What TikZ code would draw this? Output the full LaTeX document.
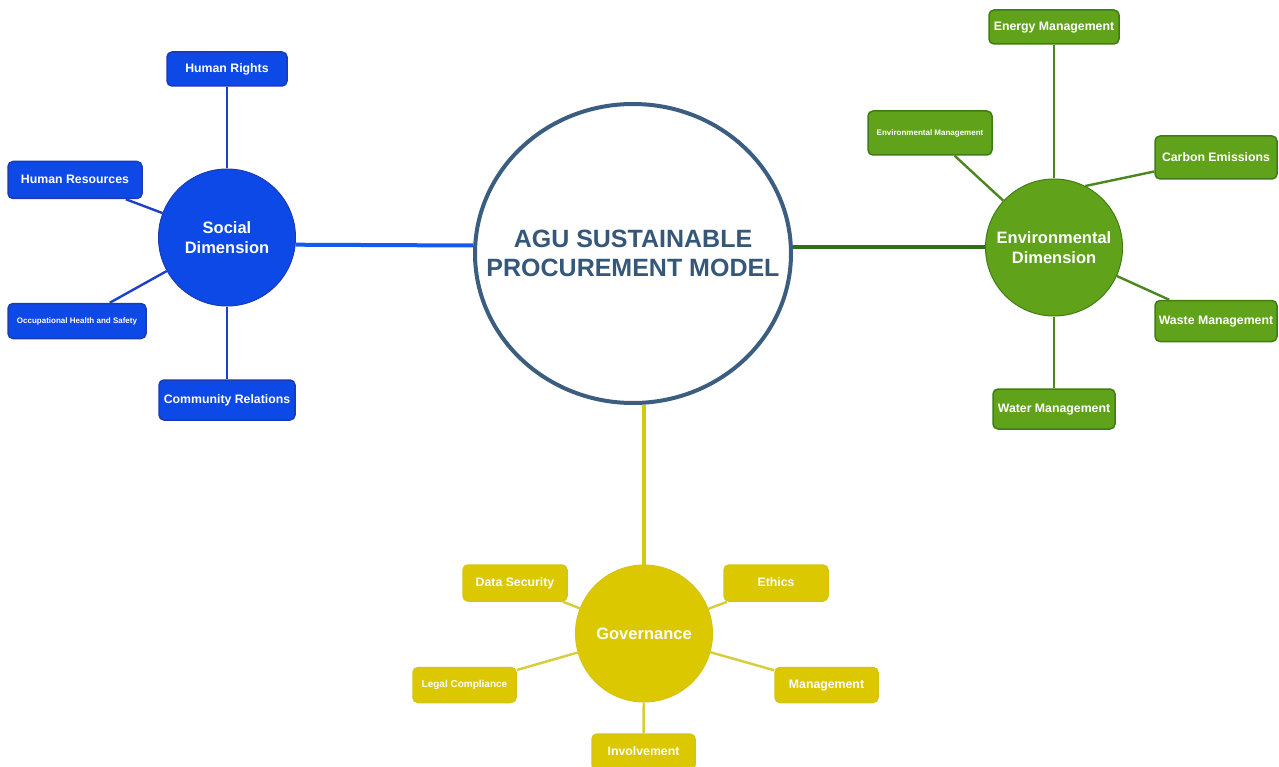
\documentclass[tikz,border=0pt]{standalone}
\usepackage{fontspec}
\setmainfont{Liberation Sans}
\usetikzlibrary{shapes.geometric}
\definecolor{mainline}{HTML}{3B5E80}
\definecolor{maintext}{HTML}{35587A}
\definecolor{socfill}{HTML}{0D49E6}
\definecolor{socdraw}{HTML}{1C3AB4}
\definecolor{socline}{HTML}{1E3FC8}
\definecolor{sochub}{HTML}{145AF0}
\definecolor{envfill}{HTML}{60A31A}
\definecolor{envdraw}{HTML}{3E7D14}
\definecolor{envline}{HTML}{4B871E}
\definecolor{envhub}{HTML}{2E7010}
\definecolor{govfill}{HTML}{DCC800}
\definecolor{govdraw}{HTML}{D4C414}
\definecolor{govline}{HTML}{D7CD3C}
\definecolor{govhub}{HTML}{D2CC10}
\begin{document}
\begin{tikzpicture}[x=1pt, y=-1pt,
  main_style/.style={ellipse,draw=mainline,line width=4pt,fill=white,minimum width=316pt,minimum height=299pt,inner sep=0pt},
  title_style/.style={inner sep=0pt,text=maintext,align=center,font=\bfseries\fontsize{25}{29}\selectfont},
  hub_style/.style={circle,minimum size=137pt,inner sep=0pt,line width=1pt,text=white,align=center,font=\bfseries\fontsize{16.5}{20}\selectfont},
  leaf_style/.style={rounded corners=5pt,inner sep=1pt,line width=1.5pt,text=white,text depth=0.25ex,font=\bfseries\fontsize{12.3}{14}\selectfont},
  soc_style/.style={leaf_style,draw=socdraw,fill=socfill},
  env_style/.style={leaf_style,draw=envdraw,fill=envfill},
  gov_style/.style={leaf_style,draw=govdraw,fill=govfill},
  small_style/.style={font=\bfseries\fontsize{8}{10}\selectfont},
  edge_style/.style={line width=2.4pt},
  spoke_style/.style={line width=4pt}]
      \useasboundingbox[fill=white] (0,0) rectangle (1279,767);
      \draw
        (633,253.5) node[main_style] (main){}
        (633,253.5) node[title_style] (title){AGU SUSTAINABLE\\PROCUREMENT MODEL}
        (227,237.5) node[hub_style,draw=socdraw,fill=socfill] (socc){Social\\Dimension}
        (1054,247.5) node[hub_style,draw=envdraw,fill=envfill] (envc){Environmental\\Dimension}
        (644,633.5) node[hub_style,draw=govdraw,fill=govfill] (govc){Governance}
        (227,69) node[soc_style,minimum width=120pt,minimum height=34pt] (hrights){Human Rights}
        (75,180) node[soc_style,minimum width=134pt,minimum height=37pt] (hres){Human Resources}
        (77,321) node[soc_style,small_style,minimum width=138pt,minimum height=35pt] (ohs){Occupational Health and Safety}
        (227,400) node[soc_style,minimum width=136pt,minimum height=40pt] (comm){Community Relations}
        (1054,27) node[env_style,minimum width=130pt,minimum height=34pt] (energy){Energy Management}
        (930,133) node[env_style,small_style,minimum width=124pt,minimum height=44pt] (envm){Environmental Management}
        (1216,157.5) node[env_style,minimum width=122pt,minimum height=43pt] (carbon){Carbon Emissions}
        (1216,321) node[env_style,minimum width=122pt,minimum height=41pt] (waste){Waste Management}
        (1054,409) node[env_style,minimum width=122pt,minimum height=40pt] (water){Water Management}
        (515,583) node[gov_style,minimum width=104pt,minimum height=36pt] (datasec){Data Security}
        (776,583) node[gov_style,minimum width=104pt,minimum height=36pt] (ethics){Ethics}
        (464.5,685) node[gov_style,font=\bfseries\fontsize{10}{12}\selectfont,minimum width=103pt,minimum height=35pt] (legal){Legal Compliance}
        (826.5,685) node[gov_style,minimum width=103pt,minimum height=35pt] (mgmt){Management}
        (643.5,752) node[gov_style,minimum width=103pt,minimum height=36pt] (involve){Involvement};
      % spokes from the model
      \begin{scope}[spoke_style]
        \draw[draw=sochub] (socc.-6) to ([yshift=8pt]main.west);
        \draw[draw=envhub] ([yshift=6pt]main.east) to (envc.west);
        \draw[draw=govhub] (govc.north) to (govc.north |- main.south);
      \end{scope}
      \begin{scope}[edge_style]
        \draw[draw=socline] (hrights) to (socc);
        \draw[draw=socline] (hres) to (socc);
        \draw[draw=socline] (ohs) to (socc);
        \draw[draw=socline] (comm) to (socc);
        \draw[draw=envline] (energy) to (envc);
        \draw[draw=envline] (envm) to (envc);
        \draw[draw=envline] ([yshift=-14pt]carbon.west) to (envc.63);
        \draw[draw=envline] (waste) to (envc);
        \draw[draw=envline] (water) to (envc);
        \draw[draw=govline] (datasec) to (govc);
        \draw[draw=govline] (ethics) to (govc);
        \draw[draw=govline] (legal) to (govc);
        \draw[draw=govline] (mgmt) to (govc);
        \draw[draw=govline] (involve) to (govc);
      \end{scope}
    \end{tikzpicture}
\end{document}
